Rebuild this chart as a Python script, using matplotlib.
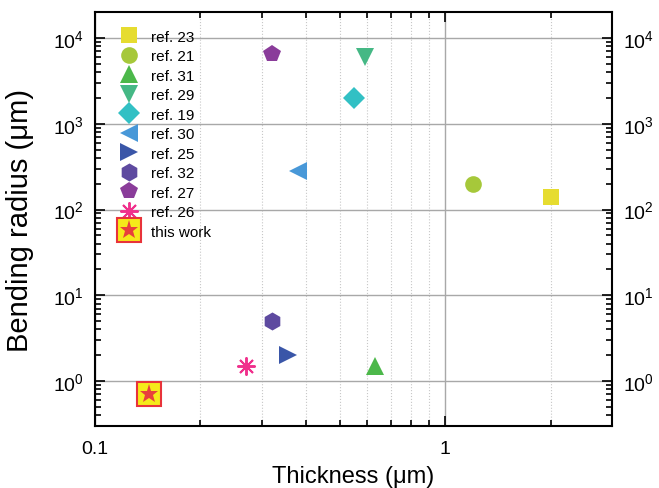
import matplotlib
matplotlib.use('Agg')
import matplotlib.pyplot as plt
from matplotlib.ticker import LogLocator, FixedLocator, FixedFormatter, NullFormatter
from matplotlib.legend_handler import HandlerTuple

plt.rcParams['font.family'] = ['Liberation Sans', 'DejaVu Sans']
plt.rcParams['mathtext.fontset'] = 'custom'
plt.rcParams['mathtext.rm'] = 'Liberation Sans'
plt.rcParams['mathtext.it'] = 'Liberation Sans'

# Data (thickness in um, bending radius in um)
labels = ['ref. 23', 'ref. 21', 'ref. 31', 'ref. 29', 'ref. 19',
          'ref. 30', 'ref. 25', 'ref. 32', 'ref. 27', 'ref. 26']
thickness = [2.0, 1.2, 0.63, 0.59, 0.55, 0.38, 0.355, 0.32, 0.32, 0.27]
radius = [140, 200, 1.5, 6000, 2000, 280, 2.0, 5.0, 6500, 1.5]
markers = ['s', 'o', '^', 'v', 'D', '<', '>', 'h', 'p', (8, 2, 0)]
colors = ['#e6dc30', '#a6c83a', '#4cb84a', '#45b885', '#32c0c4',
          '#4898d8', '#3a56a8', '#5e4aa0', '#8a3c9a', '#f0308c']
sizes = [11, 12, 13, 13, 11, 13, 13, 13, 13, 13]

this_thickness = [0.143]
this_radius = [0.7]

fig = plt.figure(figsize=(6.59, 4.89), dpi=100)
ax = fig.add_axes([0.144, 0.127, 0.785, 0.846])

handles = []
for x, y, m, c, s, lab in zip(thickness, radius, markers, colors, sizes, labels):
    if isinstance(m, tuple):
        h, = ax.plot([x], [y], ls='none', marker=m, color=c, markersize=s,
                     markeredgewidth=1.4, label=lab, zorder=3)
    else:
        h, = ax.plot([x], [y], ls='none', marker=m, color=c, markersize=s,
                     markeredgewidth=0, label=lab, zorder=3)
    handles.append(h)

sq, = ax.plot(this_thickness, this_radius, ls='none', marker='s', markersize=17,
              markerfacecolor='#f5ea1a', markeredgecolor='#e8333a',
              markeredgewidth=1.5, zorder=3)
st, = ax.plot(this_thickness, this_radius, ls='none', marker='*', markersize=14,
              color='#e8403c', markeredgewidth=0, zorder=4)
handles.append((sq, st))

ax.set_xscale('log')
ax.set_yscale('log')
ax.set_xlim(0.1, 3.0)
ax.set_ylim(0.3, 2e4)

ax.xaxis.set_major_locator(FixedLocator([0.1, 1]))
ax.xaxis.set_major_formatter(FixedFormatter(['0.1', '1']))
ax.xaxis.set_minor_locator(LogLocator(base=10, subs=range(2, 10)))
ax.xaxis.set_minor_formatter(NullFormatter())
ax.yaxis.set_major_locator(LogLocator(base=10, numticks=10))
ax.yaxis.set_minor_locator(LogLocator(base=10, subs=range(2, 10), numticks=20))
ax.yaxis.set_minor_formatter(NullFormatter())

ax.tick_params(which='both', direction='in', top=True, right=True,
               labelright=True, labelsize=14, width=1.2)
ax.tick_params(which='major', length=7, pad=8)
ax.tick_params(axis='x', which='major', pad=10)
ax.tick_params(which='minor', length=4)

ax.grid(which='major', color='#a8a8a8', lw=1.0, ls='-')
ax.xaxis.grid(which='minor', color='#c8c8c8', lw=0.8, ls=':')
ax.set_axisbelow(True)
for sp in ax.spines.values():
    sp.set_linewidth(1.5)

ax.set_xlabel('Thickness (\u03bcm)', fontsize=17)
ax.set_ylabel('Bending radius (\u03bcm)', fontsize=21)
ax.xaxis.set_label_coords(0.5, -0.094)
ax.yaxis.set_label_coords(-0.118, 0.5)

ax.legend(handles, labels + ['this work'], loc='upper left', frameon=False,
          fontsize=11, handlelength=1.4, handletextpad=0.75, labelspacing=0.36,
          borderaxespad=0.2, bbox_to_anchor=(0.027, 0.98),
          handler_map={tuple: HandlerTuple(ndivide=1, pad=0)})

fig.savefig('out.png', dpi=100)
